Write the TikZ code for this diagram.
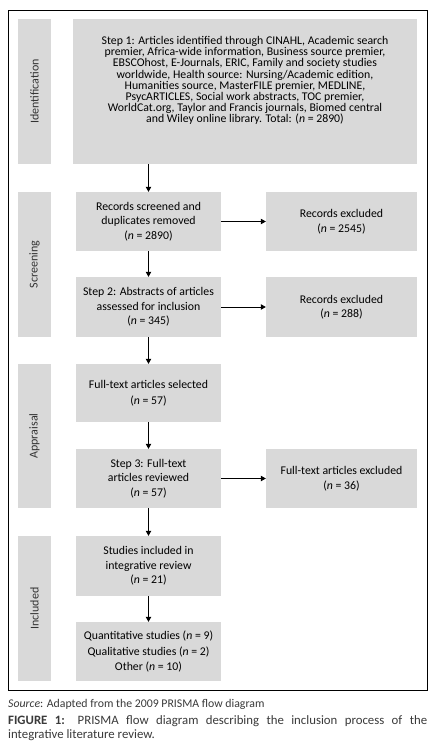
\documentclass[tikz,border=0pt]{standalone}
\usepackage{fontspec}
\setmainfont{Carlito}
\usetikzlibrary{arrows.meta}
\definecolor{boxgrey}{HTML}{D9D9D9}
\definecolor{labgrey}{HTML}{333333}
\definecolor{capgrey}{HTML}{3A3A3A}
\begin{document}
\begin{tikzpicture}[x=1pt,y=-1pt,
  box/.style={fill=boxgrey, inner sep=0pt, minimum width=#1},
  box/.default=145pt,
  txt/.style={font=\fontsize{11.8}{14.5}\selectfont, align=center, inner sep=0pt},
  sidebar/.style={fill=boxgrey, inner sep=0pt, minimum width=33pt},
  sidelab/.style={rotate=90, font=\fontsize{12}{13}\selectfont, text=labgrey, inner sep=0pt},
  arr/.style={-{Triangle[width=5.5pt,length=5pt]}, line width=0.8pt}
]
\useasboundingbox (0,0) rectangle (432,751);
\fill[white] (0,0) rectangle (432,751);
\node[draw, line width=0.9pt, minimum width=419pt, minimum height=680pt, inner sep=0pt] (frame) at (217.5,350) {};

% side bars
\node[sidebar, minimum height=145pt] (sid) at (34.5,91.5) {};
\node[sidelab] (lid) at (sid.center) {Identification};
\node[sidebar, minimum height=145pt] (sscr) at (34.5,264.5) {};
\node[sidelab] (lscr) at (sscr.center) {Screening};
\node[sidebar, minimum height=144pt] (sapp) at (34.5,436) {};
\node[sidelab] (lapp) at (sapp.center) {Appraisal};
\node[sidebar, minimum height=145pt] (sinc) at (34.5,608.5) {};
\node[sidelab] (linc) at (sinc.center) {Included};

% boxes
\node[box=344pt, minimum height=145pt] (s1) at (245,91.5) {};
\node[txt, font=\fontsize{11.8}{11.2}\selectfont] (t1) at (245,80.5) {Step 1: Articles identified through CINAHL, Academic search\\
premier, Africa-wide information, Business source premier,\\
EBSCOhost, E-Journals, ERIC, Family and society studies\\
worldwide, Health source: Nursing/Academic edition,\\
Humanities source, MasterFILE premier, MEDLINE,\\
PsycARTICLES, Social work abstracts, TOC premier,\\
WorldCat.org, Taylor and Francis journals, Biomed central\\
and Wiley online library. Total: (\textit{n} = 2890)};

\node[box, minimum height=59pt, txt] (rs) at (148.5,221.5) {Records screened and\\duplicates removed\\(\textit{n} = 2890)};
\node[box=151pt, minimum height=59pt, txt] (ex1) at (341.5,221.5) {Records excluded\\(\textit{n} = 2545)};
\node[box, minimum height=60pt, txt] (s2) at (148.5,307) {Step 2: Abstracts of articles\\assessed for inclusion\\(\textit{n} = 345)};
\node[box=151pt, minimum height=60pt, txt] (ex2) at (341.5,307) {Records excluded\\(\textit{n} = 288)};
\node[box, minimum height=58pt, txt, font=\fontsize{11.8}{16.5}\selectfont] (ft) at (148.5,393) {Full-text articles selected\\(\textit{n} = 57)};
\node[box, minimum height=59pt, txt] (s3) at (148.5,478.5) {Step 3: Full-text\\articles reviewed\\(\textit{n} = 57)};
\node[box=151pt, minimum height=59pt, txt] (ex3) at (341.5,478.5) {Full-text articles excluded\\(\textit{n} = 36)};
\node[box, minimum height=60pt, txt] (inc) at (148.5,566) {Studies included in\\integrative review\\(\textit{n} = 21)};
\node[box, minimum height=59pt, txt, font=\fontsize{11.8}{15.5}\selectfont] (fin) at (148.5,651.5) {Quantitative studies (\textit{n} = 9)\\Qualitative studies (\textit{n} = 2)\\Other (\textit{n} = 10)};

% arrows
\draw[arr] (s1.south -| rs.north) -- (rs.north);
\draw[arr] (rs.south) -- (s2.north);
\draw[arr] (s2.south) -- (ft.north);
\draw[arr] (ft.south) -- (s3.north);
\draw[arr] (s3.south) -- (inc.north);
\draw[arr] (inc.south) -- (fin.north);
\draw[arr] (rs.east) -- (ex1.west);
\draw[arr] (s2.east) -- (ex2.west);
\draw[arr] (s3.east) -- (ex3.west);

% caption
\node[anchor=base west, inner sep=0pt, font=\fontsize{11.8}{13}\selectfont, text=capgrey] (src) at (8,707) {\textit{Source}: Adapted from the 2009 PRISMA flow diagram};
\node[anchor=base west, inner sep=0pt, text width=419pt, align=justify, font=\fontsize{12.8}{14}\selectfont, text=capgrey] (cap) at (8,724) {\textbf{FIGURE 1:} PRISMA flow diagram describing the inclusion process of the\linebreak integrative literature review.};
\end{tikzpicture}
\end{document}
